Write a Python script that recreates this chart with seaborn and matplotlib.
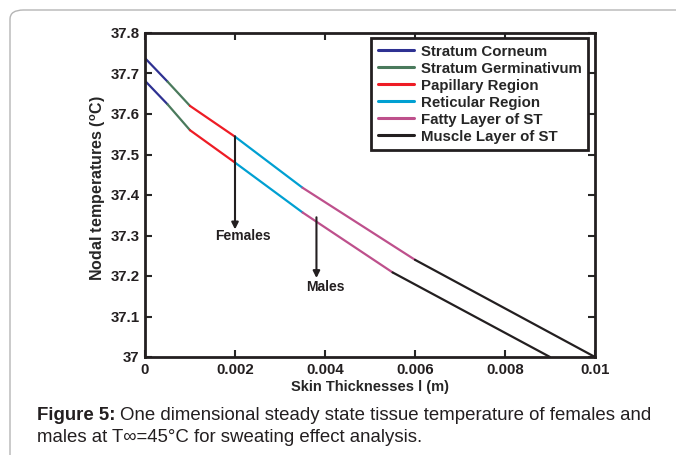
import matplotlib
matplotlib.use("Agg")
import matplotlib.pyplot as plt
import seaborn as sns
import pandas as pd
from matplotlib.patches import FancyBboxPatch

# ---- data ----
layers = ["Stratum Corneum", "Stratum Germinativum", "Papillary Region",
          "Reticular Region", "Fatty Layer of ST", "Muscle Layer of ST"]
female_x = [0, 0.0005, 0.001, 0.002, 0.0035, 0.006, 0.01]
female_t = [37.738, 37.68, 37.62, 37.544, 37.418, 37.24, 37.0]
male_x = [0, 0.0005, 0.001, 0.002, 0.0035, 0.0055, 0.009]
male_t = [37.682, 37.624, 37.56, 37.48, 37.357, 37.209, 37.0]
colors = ["#2e3192", "#4a7a5c", "#ee1c25", "#00a0d2", "#be508c", "#231f20"]
xticks = [0, 0.002, 0.004, 0.006, 0.008, 0.01]
xticklabels = ["0", "0.002", "0.004", "0.006", "0.008", "0.01"]
yticks = [37.0, 37.1, 37.2, 37.3, 37.4, 37.5, 37.6, 37.7, 37.8]
yticklabels = ["37", "37.1", "37.2", "37.3", "37.4", "37.5", "37.6", "37.7", "37.8"]

rows = []
for sex, xs, ts in [("Females", female_x, female_t), ("Males", male_x, male_t)]:
    for i, layer in enumerate(layers):
        for j in (i, i + 1):
            rows.append({"x": xs[j], "t": ts[j], "layer": layer, "sex": sex, "order": j})
df = pd.DataFrame(rows)

sns.set_style("ticks")
plt.rcParams["font.family"] = ["Liberation Sans", "DejaVu Sans"]
plt.rcParams["mathtext.fontset"] = "custom"
plt.rcParams["mathtext.rm"] = "Liberation Sans"
plt.rcParams["mathtext.bf"] = "Liberation Sans:bold"

fig = plt.figure(figsize=(6.76, 4.55), dpi=100)
fig.patch.set_facecolor("white")

# outer rounded border
border = FancyBboxPatch((10 / 676, -0.2), 1.2, 1 - 10 / 455 + 0.2,
                        boxstyle="round,pad=0,rounding_size=0.02",
                        transform=fig.transFigure, fill=False,
                        edgecolor="#b5b5b5", linewidth=1.0)
fig.patches.append(border)

ax = fig.add_axes([145 / 676, 1 - 357 / 455, 450 / 676, 324 / 455])
sns.lineplot(data=df, x="x", y="t", hue="layer", units="sex", estimator=None,
             sort=False, palette=dict(zip(layers, colors)), hue_order=layers,
             linewidth=1.6, ax=ax)

ax.set_xlim(0, 0.01)
ax.set_ylim(37.0, 37.8)
ax.set_xticks(xticks)
ax.set_xticklabels(xticklabels)
ax.set_yticks(yticks)
ax.set_yticklabels(yticklabels)
ax.tick_params(direction="in", length=5, width=1.5, top=True, right=True,
               labelsize=10.8, pad=4)
for lab in ax.get_xticklabels() + ax.get_yticklabels():
    lab.set_fontweight("bold")
    lab.set_color("#231f20")
for sp in ax.spines.values():
    sp.set_visible(True)
    sp.set_linewidth(2.0)
    sp.set_color("#231f20")

ax.set_xlabel("Skin Thicknesses l (m)", fontsize=10.5, fontweight="bold")
ax.set_ylabel(r"Nodal temperatures ($\mathbf{^{o}}$C)", fontsize=11.5,
              fontweight="bold")
ax.xaxis.set_label_coords(0.5, -0.0926)
ax.xaxis.label.set_va("center")
ax.yaxis.set_label_coords(-0.103, 0.52)
ax.yaxis.label.set_va("center")

handles, labels = ax.get_legend_handles_labels()
leg = ax.legend(handles, labels, loc="upper right", bbox_to_anchor=(0.985, 0.985),
                prop={"weight": "bold", "size": 10.8}, frameon=True, fancybox=False,
                framealpha=1, edgecolor="#231f20", handlelength=2.4, handletextpad=0.45,
                labelspacing=0.2, borderpad=0.45, borderaxespad=0)
leg.get_frame().set_linewidth(2.0)
for h in leg.get_lines():
    h.set_linewidth(2.2)

arrow_kw = dict(arrowstyle="-|>", color="#231f20", lw=1.5, mutation_scale=10,
                shrinkA=0, shrinkB=0)
ax.annotate("", xy=(0.002, 37.315), xytext=(0.002, 37.545), arrowprops=arrow_kw)
ax.text(0.00217, 37.298, "Females", ha="center", va="center", fontsize=10,
        fontweight="bold", color="#231f20")
ax.annotate("", xy=(0.00381, 37.195), xytext=(0.00381, 37.345), arrowprops=arrow_kw)
ax.text(0.004, 37.172, "Males", ha="center", va="center", fontsize=10,
        fontweight="bold", color="#231f20")

# caption
cap_size = 13.4
t1 = fig.text(37 / 676, 1 - 419.5 / 455, "Figure 5:", fontsize=cap_size,
              fontweight="bold", va="baseline", ha="left", color="#231f20")
fig.canvas.draw()
bb = t1.get_window_extent(renderer=fig.canvas.get_renderer())
fig.text(bb.x1 / 676 + 4 / 676, 1 - 419.5 / 455,
         "One dimensional steady state tissue temperature of females and",
         fontsize=cap_size, va="baseline", ha="left", color="#231f20")
fig.text(37 / 676, 1 - 442 / 455, "males at T\u221e=45\u00b0C for sweating effect analysis.",
         fontsize=cap_size, va="baseline", ha="left", color="#231f20")

fig.savefig("out.png", dpi=100)
